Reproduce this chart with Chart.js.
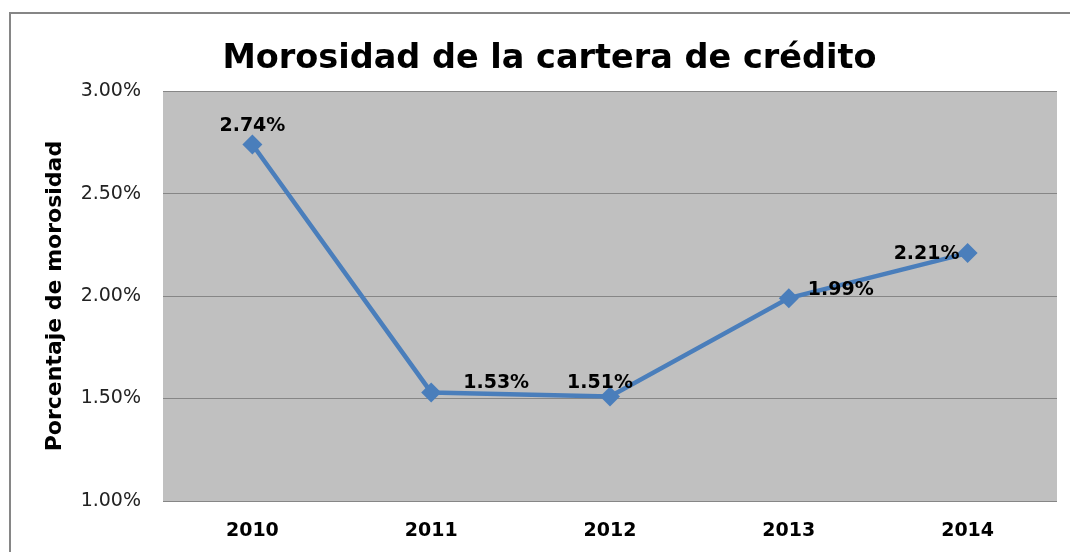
<!DOCTYPE html>
<html>
<head>
<meta charset="utf-8">
<script src="https://cdn.jsdelivr.net/npm/chart.js@4/dist/chart.umd.min.js"></script>
<style>
  html, body { margin: 0; padding: 0; background: #fff; }
  #wrap { width: 1070px; height: 552px; }
</style>
</head>
<body>
<div id="wrap"><canvas id="grafico" width="1070" height="552"></canvas></div>
<script>
// datos
const anios = ['2010', '2011', '2012', '2013', '2014'];
const morosidad = [2.74, 1.53, 1.51, 1.99, 2.21];
const ticksY = [1.0, 1.5, 2.0, 2.5, 3.0];

// desplazamiento de cada etiqueta respecto a su punto (px)
const desplEtiquetas = [[0, -18], [65, -9], [-10, -13], [52, -8], [-41, 1]];

const azul = '#4a7ebb';
const fuente = "'DejaVu Sans', sans-serif";

const fondoPlugin = {
    id: 'fondo',
    beforeDraw(chart) {
        const { ctx, chartArea: a } = chart;
        ctx.save();
        ctx.fillStyle = '#fff';
        ctx.fillRect(0, 0, chart.width, chart.height);
        ctx.strokeStyle = '#868686';
        ctx.lineWidth = 2;
        ctx.strokeRect(10, 13, chart.width + 20, chart.height + 20);
        ctx.fillStyle = '#c0c0c0';
        ctx.fillRect(a.left, a.top, a.right - a.left, a.bottom - a.top);
        ctx.restore();
    }
};

const etiquetasPlugin = {
    id: 'etiquetas',
    afterDatasetsDraw(chart) {
        const { ctx } = chart;
        const meta = chart.getDatasetMeta(0);
        ctx.save();
        ctx.font = 'bold 19px ' + fuente;
        ctx.fillStyle = '#000';
        ctx.textAlign = 'center';
        ctx.textBaseline = 'middle';
        meta.data.forEach((p, i) => {
            const [dx, dy] = desplEtiquetas[i];
            ctx.fillText(morosidad[i].toFixed(2) + '%', p.x + dx, p.y + dy);
        });
        ctx.restore();
    }
};

new Chart(document.getElementById('grafico').getContext('2d'), {
    type: 'line',
    data: {
        labels: anios,
        datasets: [{
            data: morosidad,
            borderColor: azul,
            backgroundColor: azul,
            borderWidth: 4.5,
            tension: 0,
            pointStyle: 'rectRot',
            pointRadius: 10,
            pointBorderWidth: 0
        }]
    },
    options: {
        responsive: false,
        animation: false,
        layout: { padding: { left: 42, right: 13, top: 0, bottom: 0 } },
        plugins: {
            legend: { display: false },
            tooltip: { enabled: false },
            title: {
                display: true,
                text: 'Morosidad de la cartera de crédito',
                color: '#000',
                font: { family: fuente, size: 33.5, weight: 'bold', lineHeight: 1.2 },
                padding: { top: 39, bottom: 12 }
            }
        },
        scales: {
            x: {
                offset: true,
                grid: { display: false, drawTicks: false },
                border: { display: false },
                ticks: { color: '#000', padding: 19, font: { family: fuente, size: 19, weight: 'bold' } },
                afterFit(s) { s.height = 51; }
            },
            y: {
                min: 1, max: 3,
                afterBuildTicks(s) { s.ticks = ticksY.map(v => ({ value: v })); },
                grid: { color: '#868686', lineWidth: 1, drawTicks: false },
                border: { display: false },
                ticks: {
                    color: '#222', padding: 22,
                    font: { family: fuente, size: 19 },
                    callback: v => v.toFixed(2) + '%'
                },
                title: {
                    display: true,
                    text: 'Porcentaje de morosidad',
                    color: '#000',
                    font: { family: fuente, size: 22, weight: 'bold', lineHeight: 1.2 },
                    padding: { top: 0, bottom: 0 }
                },
                afterFit(s) { s.width = 121; }
            }
        }
    },
    plugins: [fondoPlugin, etiquetasPlugin]
});
</script>
</body>
</html>
